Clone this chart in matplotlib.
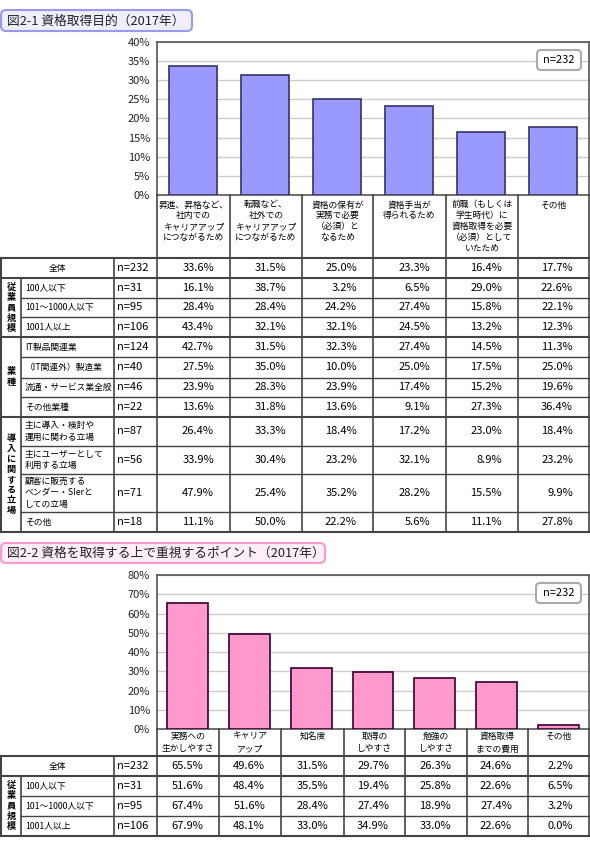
import matplotlib
matplotlib.use('Agg')
import matplotlib.pyplot as plt
from matplotlib.patches import FancyBboxPatch

plt.rcParams['font.family'] = ['Noto Sans CJK JP', 'DejaVu Sans']

W, H = 590, 847

# ---- 図2-1 data ----
purpose_labels = [
    ['昇進、昇格など、', '社内での', 'キャリアアップ', 'につながるため'],
    ['転職など、', '社外での', 'キャリアアップ', 'につながるため'],
    ['資格の保有が', '実務で必要', '（必須）と', 'なるため'],
    ['資格手当が', '得られるため'],
    ['前職（もしくは', '学生時代）に', '資格取得を必要', '（必須）として', 'いたため'],
    ['その他'],
]
purpose_all = [33.6, 31.5, 25.0, 23.3, 16.4, 17.7]
purpose_rows = [
    ['100人以下'], ['101～1000人以下'], ['1001人以上'],
    ['IT製品関連業'], ['（IT関連外）製造業'], ['流通・サービス業全般'], ['その他業種'],
    ['主に導入・検討や', '運用に関わる立場'], ['主にユーザーとして', '利用する立場'],
    ['顧客に販売する', 'ベンダー・SIerと', 'しての立場'], ['その他'],
]
purpose_n = [31, 95, 106, 124, 40, 46, 22, 87, 56, 71, 18]
purpose_vals = [
    [16.1, 38.7, 3.2, 6.5, 29.0, 22.6],
    [28.4, 28.4, 24.2, 27.4, 15.8, 22.1],
    [43.4, 32.1, 32.1, 24.5, 13.2, 12.3],
    [42.7, 31.5, 32.3, 27.4, 14.5, 11.3],
    [27.5, 35.0, 10.0, 25.0, 17.5, 25.0],
    [23.9, 28.3, 23.9, 17.4, 15.2, 19.6],
    [13.6, 31.8, 13.6, 9.1, 27.3, 36.4],
    [26.4, 33.3, 18.4, 17.2, 23.0, 18.4],
    [33.9, 30.4, 23.2, 32.1, 8.9, 23.2],
    [47.9, 25.4, 35.2, 28.2, 15.5, 9.9],
    [11.1, 50.0, 22.2, 5.6, 11.1, 27.8],
]
purpose_groups = [('従業員規模', 0, 3), ('業種', 3, 7), ('導入に関する立場', 7, 11)]

# ---- 図2-2 data ----
point_labels = [['実務への', '生かしやすさ'], ['キャリア', 'アップ'], ['知名度'],
                ['取得の', 'しやすさ'], ['勉強の', 'しやすさ'], ['資格取得', 'までの費用'], ['その他']]
point_all = [65.5, 49.6, 31.5, 29.7, 26.3, 24.6, 2.2]
point_rows = [['100人以下'], ['101～1000人以下'], ['1001人以上']]
point_n = [31, 95, 106]
point_vals = [
    [51.6, 48.4, 35.5, 19.4, 25.8, 22.6, 6.5],
    [67.4, 51.6, 28.4, 27.4, 18.9, 27.4, 3.2],
    [67.9, 48.1, 33.0, 34.9, 33.0, 22.6, 0.0],
]
point_groups = [('従業員規模', 0, 3)]

FS = 8      # numbers
LS = 6.3    # japanese labels
LC = '#444444'

fig = plt.figure(figsize=(W / 100, H / 100), dpi=100)


def px_axes(l, t, r, b):
    return fig.add_axes([l / W, 1 - b / H, (r - l) / W, (b - t) / H])


def bar_chart(l, t, r, b, vals, ymax, step, color, edge):
    ax = px_axes(l, t, r, b)
    ax.bar(range(len(vals)), vals, width=0.66, color=color, edgecolor=edge, lw=1.2, zorder=3)
    ax.set_xlim(-0.5, len(vals) - 0.5)
    ax.set_ylim(0, ymax)
    ticks = list(range(0, ymax + 1, step))
    ax.set_yticks(ticks)
    ax.set_yticklabels([f'{v}%' for v in ticks])
    ax.set_xticks([])
    ax.yaxis.grid(True, color='#cccccc', lw=1)
    ax.set_axisbelow(True)
    ax.tick_params(axis='y', length=0, pad=5, labelsize=FS, labelcolor='#222222')
    for s in ax.spines.values():
        s.set_color('#555555')
        s.set_linewidth(1.2)
    return ax


ax1 = bar_chart(157, 42, 589, 195, purpose_all, 40, 5, '#9999ff', '#333366')
ax2 = bar_chart(157, 575, 589, 729, point_all, 80, 10, '#ff99cc', '#330033')

ov = fig.add_axes([0, 0, 1, 1])
ov.set_xlim(0, W)
ov.set_ylim(H, 0)
ov.axis('off')


def title_box(x0, y0, x1, y1, text, fc, ec):
    ov.add_patch(FancyBboxPatch((x0, y0), x1 - x0, y1 - y0,
                                boxstyle='round,pad=0,rounding_size=5', fc=fc, ec=ec, lw=1.5))
    ov.text(x0 + 6, (y0 + y1) / 2 + 0.5, text, fontsize=9.2, va='center', ha='left', color='#222222')


def n_box(x0, y0, x1, y1):
    ov.add_patch(FancyBboxPatch((x0, y0), x1 - x0, y1 - y0,
                                boxstyle='round,pad=0,rounding_size=4', fc='white', ec='#aaaaaa', lw=1.5))
    ov.text((x0 + x1) / 2, (y0 + y1) / 2, 'n=232', fontsize=FS, ha='center', va='center')


def table(cols, head_top, head_bot, row_lines, head_labels, head_y0, head_dy,
          all_vals, rows, ns, vals, groups):
    bottom = row_lines[-1]
    # header labels
    for i, lab in enumerate(head_labels):
        cx = (cols[i] + cols[i + 1]) / 2
        for k, line in enumerate(lab):
            ov.text(cx, head_y0 + k * head_dy, line, fontsize=LS, ha='center', va='center')
    # vertical lines
    for x in cols:
        ov.plot([x, x], [head_top, bottom], color=LC, lw=1.2)
    ov.plot([1, 1], [head_bot, bottom], color=LC, lw=1.5)
    ov.plot([114, 114], [head_bot, bottom], color=LC, lw=1.2)
    ov.plot([21, 21], [row_lines[1], bottom], color=LC, lw=1.2)
    # horizontal lines
    bounds = {row_lines[0], row_lines[1], bottom}
    for g in groups:
        bounds.add(row_lines[g[1] + 1])
        bounds.add(row_lines[g[2] + 1])
    for y in row_lines:
        x0 = 1 if y in bounds else 21
        ov.plot([x0, cols[-1]], [y, y], color=LC, lw=1.5 if y in bounds else 1.0)
    # overall row
    yc = (row_lines[0] + row_lines[1]) / 2
    ov.text(57, yc, '全体', fontsize=LS, ha='center', va='center')
    ov.text(117, yc, 'n=232', fontsize=FS, ha='left', va='center')
    for j, v in enumerate(all_vals):
        ov.text(cols[j + 1] - 16, yc, f'{v:.1f}%', fontsize=FS, ha='right', va='center')
    # sub rows
    for i, lab in enumerate(rows):
        yc = (row_lines[i + 1] + row_lines[i + 2]) / 2
        for k, line in enumerate(lab):
            ov.text(25, yc + (k - (len(lab) - 1) / 2) * 11.5, line, fontsize=LS, ha='left', va='center')
        ov.text(117, yc, f'n={ns[i]}', fontsize=FS, ha='left', va='center')
        for j, v in enumerate(vals[i]):
            ov.text(cols[j + 1] - 16, yc, f'{v:.1f}%', fontsize=FS, ha='right', va='center')
    # group labels (vertical)
    for name, a, b in groups:
        yc = (row_lines[a + 1] + row_lines[b + 1]) / 2
        for k, ch in enumerate(name):
            ov.text(11, yc + (k - (len(name) - 1) / 2) * 10.4, ch, fontsize=LS + 0.3,
                    ha='center', va='center', fontweight='bold')


title_box(1, 10, 192, 31, '図2-1 資格取得目的（2017年）', '#eeeeff', '#9999ee')
n_box(537, 50, 581, 70)
table([157, 230, 302, 373, 446, 518, 589], 195, 258,
      [258, 278, 298, 317, 337, 357, 378, 397, 417, 446, 474, 512, 532],
      purpose_labels, 205, 10.8, purpose_all, purpose_rows, purpose_n, purpose_vals, purpose_groups)

title_box(1, 543, 325, 563, '図2-2 資格を取得する上で重視するポイント（2017年）', '#ffeef8', '#ff99cc')
n_box(536, 583, 581, 603)
table([157, 219, 281, 344, 405, 467, 528, 589], 729, 756,
      [756, 776, 796, 816, 836],
      point_labels, 736, 13, point_all, point_rows, point_n, point_vals, point_groups)

fig.savefig('out.png', dpi=100)
